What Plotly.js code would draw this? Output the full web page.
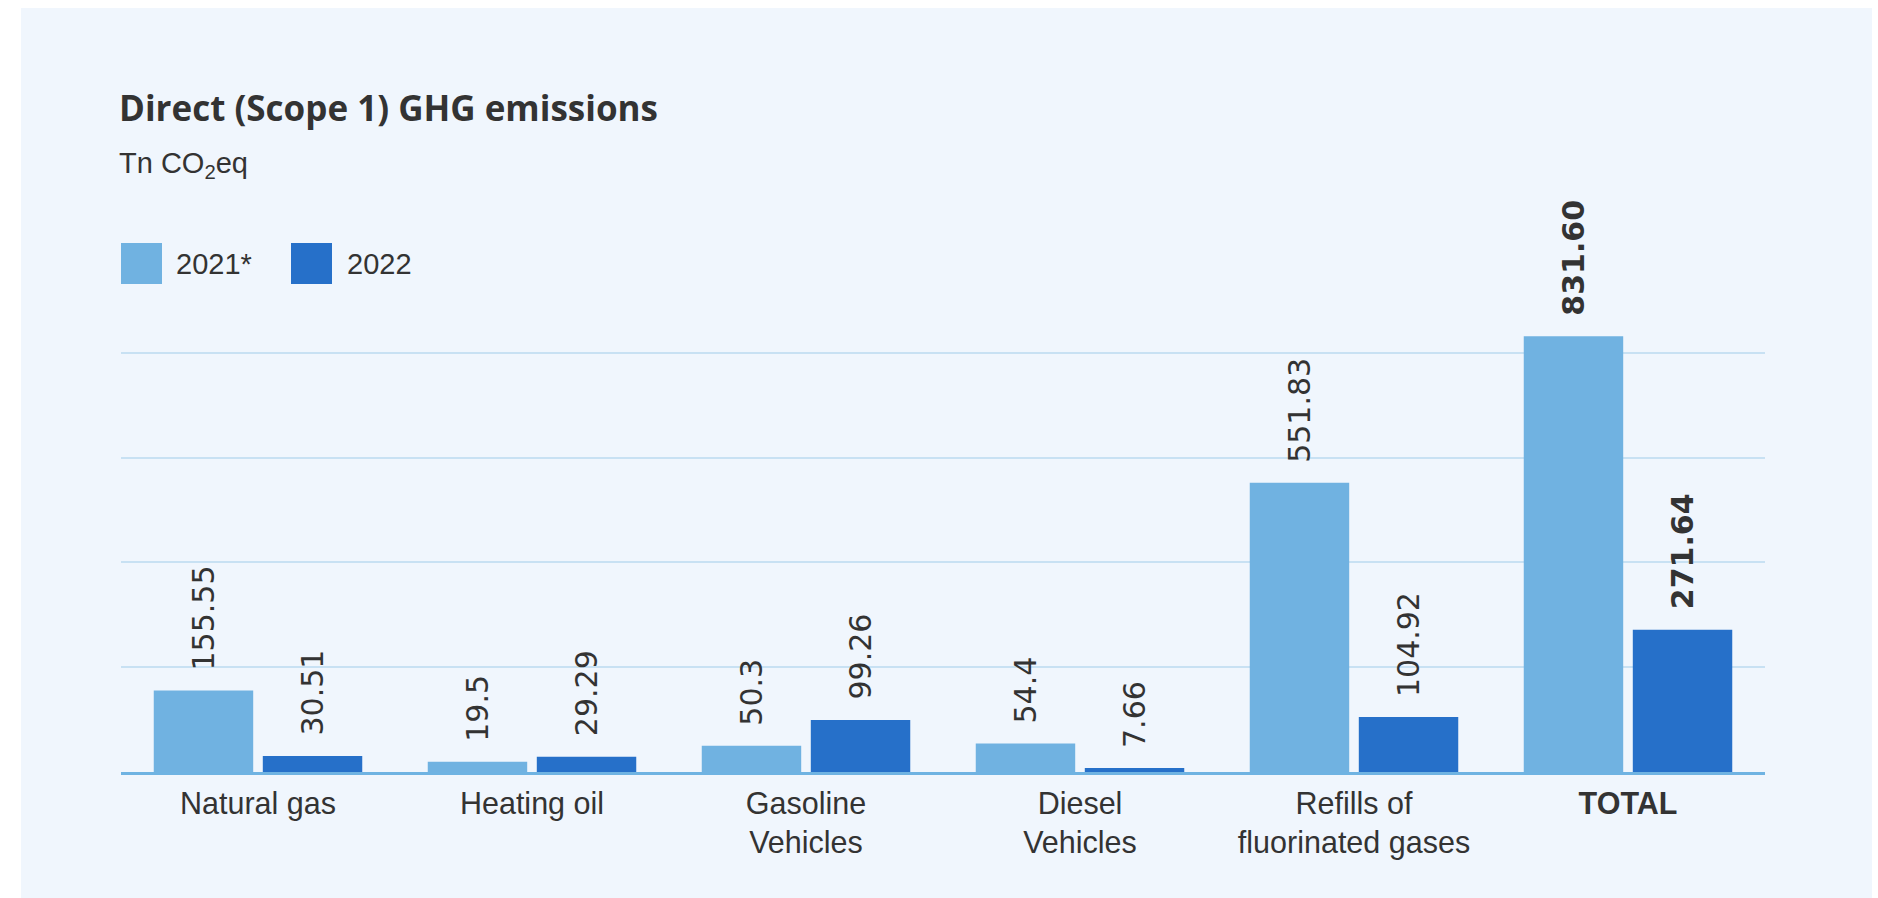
<!DOCTYPE html>
<html>
<head>
<meta charset="utf-8">
<script src="https://cdn.plot.ly/plotly-3.0.1.min.js"></script>
<style>
  html, body { margin: 0; padding: 0; background: #ffffff; }
  #chart { position: absolute; left: 21px; top: 8px; width: 1851px; height: 890px; }
</style>
</head>
<body>
<div id="chart"></div>
<script>
// Direct (Scope 1) GHG emissions, tonnes CO2eq
const categories = ["Natural gas", "Heating oil", "Gasoline<br>Vehicles", "Diesel<br>Vehicles", "Refills of<br>fluorinated gases", "TOTAL"];
const seriesNames = ["2021*", "2022"];
const values2021 = [155.55, 19.5, 50.3, 54.4, 551.83, 831.60];
const values2022 = [30.51, 29.29, 99.26, 7.66, 104.92, 271.64];
const labels2021 = ["155.55", "19.5", "50.3", "54.4", "551.83", "831.60"];
const labels2022 = ["30.51", "29.29", "99.26", "7.66", "104.92", "271.64"];

const colors = ["#70b2e1", "#2670c9"];
const textColor = "#333333";
const fontFamily = "'Liberation Sans', Arial, sans-serif";
const numFont = "'DejaVu Sans', sans-serif";

// plot-area geometry in container pixels
const W = 1851, H = 890;
const M = { l: 100, r: 107, t: 240, b: 126 };
const plotW = W - M.l - M.r, plotH = H - M.t - M.b;
const px = x => (x - M.l) / plotW;
const py = y => (H - M.b - y) / plotH;

const isTotal = c => c === "TOTAL";
const tickText = categories.map(c => isTotal(c) ? "<b>" + c + "</b>" : c);

const series = [values2021, values2022];
const seriesLabels = [labels2021, labels2022];

const traces = series.map((vals, s) => ({
  type: "bar",
  name: seriesNames[s],
  x: categories,
  y: vals,
  marker: { color: colors[s], line: { width: 0 } },
  hoverinfo: "x+y+name",
  showlegend: false
}));

// value labels above each bar, rotated
const annotations = [];
const slotHalf = 54.5;
series.forEach((vals, s) => {
  vals.forEach((v, i) => {
    const bold = isTotal(categories[i]);
    annotations.push({
      x: categories[i], y: v, xref: "x", yref: "y",
      xshift: s === 0 ? -slotHalf : slotHalf,
      yshift: 18,
      yanchor: "bottom", xanchor: "center",
      textangle: -90,
      showarrow: false,
      text: bold ? "<b>" + seriesLabels[s][i] + "</b>" : seriesLabels[s][i],
      font: { family: numFont, size: 30, color: textColor }
    });
  });
});

// title and unit line
annotations.push({
  xref: "paper", yref: "paper", x: px(96), y: py(99),
  xanchor: "left", yanchor: "middle", showarrow: false,
  text: "<b>Direct (Scope 1) GHG emissions</b>",
  font: { family: "'Open Sans', sans-serif", size: 35, color: textColor }
});
annotations.push({
  xref: "paper", yref: "paper", x: px(96), y: py(157),
  xanchor: "left", yanchor: "middle", showarrow: false,
  text: "Tn CO<sub>2</sub>eq",
  font: { family: fontFamily, size: 29, color: textColor }
});

// legend swatches and labels
const legendX = [100, 270];
const legendTextX = [153, 324];
const shapes = [];
seriesNames.forEach((n, s) => {
  shapes.push({
    type: "rect", xref: "paper", yref: "paper",
    x0: px(legendX[s]), x1: px(legendX[s] + 41),
    y0: py(276), y1: py(235),
    fillcolor: colors[s], line: { width: 0 }
  });
  annotations.push({
    xref: "paper", yref: "paper", x: px(legendTextX[s]), y: py(255.5),
    xanchor: "left", yanchor: "middle", showarrow: false,
    text: n,
    font: { family: fontFamily, size: 29, color: textColor }
  });
});

const layout = {
  width: W, height: H,
  margin: M,
  paper_bgcolor: "#f0f6fd",
  plot_bgcolor: "rgba(0,0,0,0)",
  barmode: "group",
  bargap: 0.204,
  bargroupgap: 0.088,
  showlegend: false,
  xaxis: {
    type: "category",
    tickmode: "array",
    tickvals: categories,
    ticktext: tickText,
    showline: true, linecolor: "#6fb3e2", linewidth: 3,
    showgrid: false, ticks: "",
    ticklabelstandoff: 2,
    tickfont: { family: fontFamily, size: 30.5, color: textColor },
    fixedrange: true
  },
  yaxis: {
    range: [0, 1000],
    tickmode: "linear", tick0: 0, dtick: 200,
    showgrid: true, gridcolor: "#c8e1f3", gridwidth: 2,
    zeroline: false, showticklabels: false, ticks: "",
    fixedrange: true
  },
  annotations: annotations,
  shapes: shapes
};

Plotly.newPlot("chart", traces, layout, { displayModeBar: false, staticPlot: true });
</script>
</body>
</html>
